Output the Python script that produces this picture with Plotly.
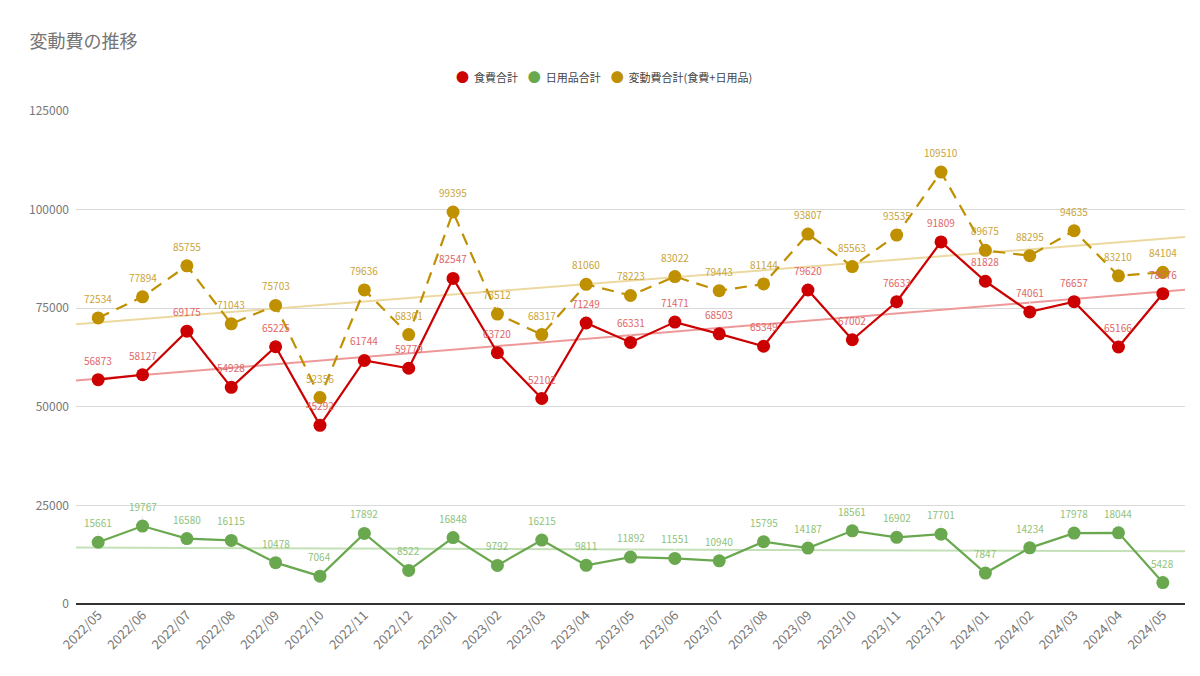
import numpy as np
import plotly.graph_objects as go

months = ["2022/05", "2022/06", "2022/07", "2022/08", "2022/09", "2022/10", "2022/11", "2022/12",
          "2023/01", "2023/02", "2023/03", "2023/04", "2023/05", "2023/06", "2023/07", "2023/08",
          "2023/09", "2023/10", "2023/11", "2023/12", "2024/01", "2024/02", "2024/03", "2024/04", "2024/05"]
food = [56873, 58127, 69175, 54928, 65225, 45292, 61744, 59779, 82547, 63720, 52102, 71249, 66331,
        71471, 68503, 65349, 79620, 67002, 76633, 91809, 81828, 74061, 76657, 65166, 78676]
daily = [15661, 19767, 16580, 16115, 10478, 7064, 17892, 8522, 16848, 9792, 16215, 9811, 11892,
         11551, 10940, 15795, 14187, 18561, 16902, 17701, 7847, 14234, 17978, 18044, 5428]
total = [72534, 77894, 85755, 71043, 75703, 52356, 79636, 68301, 99395, 73512, 68317, 81060, 78223,
         83022, 79443, 81144, 93807, 85563, 93535, 109510, 89675, 88295, 94635, 83210, 84104]

FONT = "Noto Sans CJK JP"
idx = list(range(len(months)))

# (name, values, color, label color, trend color, dash)
series = [
    ("食費合計", food, "#cc0000", "#e06666", "#ee9999", "solid"),
    ("日用品合計", daily, "#6aa84f", "#8fc27a", "#c4e0b6", "solid"),
    ("変動費合計(食費+日用品)", total, "#bf9000", "#c9a43a", "#ecd9a0", "12px,8px"),
]

fig = go.Figure()

# trendlines (linear fit, like the sheet's trendline)
for name, vals, col, lcol, tcol, dash in series:
    k, b = np.polyfit(idx, vals, 1)
    xs = [-0.5, len(months) - 0.5]
    fig.add_trace(go.Scatter(x=xs, y=[k * x + b for x in xs], mode="lines",
                             line=dict(color=tcol, width=2), showlegend=False, hoverinfo="skip"))

for name, vals, col, lcol, tcol, dash in series:
    fig.add_trace(go.Scatter(x=idx, y=vals, mode="lines+markers", name=name, showlegend=False,
                             line=dict(color=col, width=2.2, dash=dash),
                             marker=dict(color=col, size=13)))
    for i, v in zip(idx, vals):
        fig.add_annotation(x=i, y=v, text=str(v), showarrow=True, arrowhead=0, arrowwidth=1,
                           arrowcolor="#eeeeee", ax=0, ay=-10, standoff=7, yanchor="bottom",
                           font=dict(family=FONT, size=10, color=lcol))

# legend drawn as one centered line of text
legend_txt = "    ".join(f"<span style='color:{col}; font-size:13px'>●</span>  {name}"
                         for name, vals, col, lcol, tcol, dash in series)
fig.add_annotation(xref="paper", yref="paper", x=0.476, y=1.069, text=legend_txt, showarrow=False,
                   xanchor="center", yanchor="middle",
                   font=dict(family=FONT, size=11, color="#444444"))

fig.update_layout(
    width=1200, height=676, showlegend=False,
    paper_bgcolor="white", plot_bgcolor="white",
    margin=dict(l=68, r=23, t=103, b=80),
    font=dict(family=FONT, color="#444444"),
    title=dict(text="変動費の推移", x=0.018, y=0.95, xanchor="left", yanchor="middle",
               font=dict(family=FONT, size=18, color="#757575")),
)
fig.update_xaxes(tickvals=idx, ticktext=months, range=[-0.5, len(months) - 0.5],
                 tickangle=-45, tickfont=dict(family=FONT, size=13, color="#777777"),
                 showgrid=False, showline=False, zeroline=False, ticks="")
fig.update_yaxes(range=[0, 125000], dtick=25000, tickformat="d",
                 tickfont=dict(family=FONT, size=12, color="#777777"),
                 gridcolor="#d9d9d9", gridwidth=1, zeroline=True, zerolinecolor="#333333",
                 zerolinewidth=1.5, ticks="", ticklabelstandoff=6)

fig.write_html("out.html")
